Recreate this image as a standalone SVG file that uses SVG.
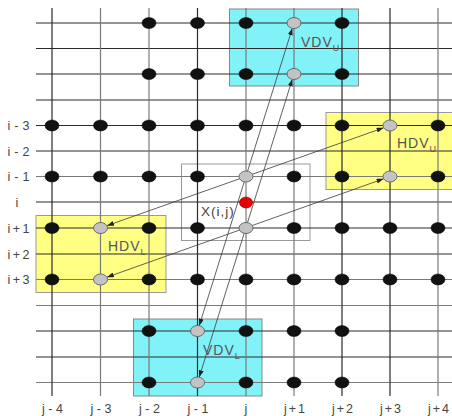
<svg xmlns="http://www.w3.org/2000/svg" width="452" height="416" viewBox="0 0 452 416">
<defs>
<style>
.g{stroke:#2a2a2a;stroke-width:1.2}
.gl{stroke:#7a7a7a;stroke-width:1.2}
.b{fill:#111;stroke:#000;stroke-width:0.5}
.s{fill:#c3c3c3;stroke:#6a6a6a;stroke-width:1}
.lbl{font-family:"Liberation Sans",Arial,sans-serif;font-size:12.5px;fill:#444;text-anchor:middle}
.box{font-family:"Liberation Sans",Arial,sans-serif;font-size:14px;fill:#555;letter-spacing:1px}
.sub{font-size:9px;letter-spacing:0}
.arr{stroke:#3a3a3a;stroke-width:0.8;fill:none;marker-start:url(#ah);marker-end:url(#ah)}
</style>
<marker id="ah" markerUnits="userSpaceOnUse" markerWidth="7" markerHeight="5" refX="7" refY="2.5" orient="auto-start-reverse">
<path d="M0,0 L7,2.5 L0,5 z" fill="#222"/>
</marker>
</defs>
<rect width="452" height="416" fill="#fff"/>
<g id="regions">
<g id="VDV_U_box"><rect x="229.5" y="9" width="129" height="77" fill="#80f2f8" stroke="#888" stroke-width="1"/></g>
<g id="HDV_U_box"><rect x="326" y="112.5" width="127" height="77" fill="#ffff84" stroke="#999" stroke-width="1"/></g>
<g id="HDV_L_box"><rect x="36" y="215.5" width="130" height="77" fill="#ffff84" stroke="#999" stroke-width="1"/></g>
<g id="VDV_L_box"><rect x="133.5" y="319" width="128.5" height="77" fill="#80f2f8" stroke="#888" stroke-width="1"/></g>
<g id="X_box"><rect x="181.5" y="164" width="128.5" height="76.5" fill="none" stroke="#999" stroke-width="1"/></g>
</g>
<g id="grid">
<line class="g" x1="36" y1="23" x2="452" y2="23"/>
<line class="g" x1="36" y1="48.5" x2="452" y2="48.5"/>
<line class="g" x1="36" y1="74" x2="452" y2="74"/>
<line class="g" x1="36" y1="100" x2="452" y2="100"/>
<line class="g" x1="36" y1="125.5" x2="452" y2="125.5"/>
<line class="g" x1="36" y1="151" x2="452" y2="151"/>
<line class="gl" x1="36" y1="176.5" x2="452" y2="176.5"/>
<line class="g" x1="36" y1="202" x2="452" y2="202"/>
<line class="g" x1="36" y1="228" x2="452" y2="228"/>
<line class="g" x1="36" y1="254" x2="452" y2="254"/>
<line class="gl" x1="36" y1="279.5" x2="452" y2="279.5"/>
<line class="gl" x1="36" y1="305.5" x2="452" y2="305.5"/>
<line class="g" x1="36" y1="331" x2="452" y2="331"/>
<line class="g" x1="36" y1="357" x2="452" y2="357"/>
<line class="gl" x1="36" y1="382.5" x2="452" y2="382.5"/>
<line class="g" x1="52" y1="8" x2="52" y2="396"/>
<line class="gl" x1="100.5" y1="8" x2="100.5" y2="396"/>
<line class="gl" x1="149" y1="8" x2="149" y2="396"/>
<line class="g" x1="197.5" y1="8" x2="197.5" y2="396"/>
<line class="gl" x1="246" y1="8" x2="246" y2="396"/>
<line class="gl" x1="294" y1="8" x2="294" y2="396"/>
<line class="g" x1="342" y1="8" x2="342" y2="396"/>
<line class="g" x1="390" y1="8" x2="390" y2="396"/>
<line class="gl" x1="438" y1="8" x2="438" y2="396"/>
</g>
<g id="connectors">
<line class="arr" x1="292.3" y1="28.3" x2="199.2" y2="325.7"/>
<line class="arr" x1="292.3" y1="79.3" x2="199.2" y2="377.2"/>
<line class="arr" x1="383.6" y1="127.8" x2="106.9" y2="225.7"/>
<line class="arr" x1="383.6" y1="178.8" x2="106.9" y2="277.2"/>
</g>
<g id="dots">
<ellipse class="b" cx="149" cy="23" rx="7" ry="5.5"/>
<ellipse class="b" cx="197.5" cy="23" rx="7" ry="5.5"/>
<ellipse class="b" cx="246" cy="23" rx="7" ry="5.5"/>
<ellipse class="s" cx="294" cy="23" rx="7" ry="5.5"/>
<ellipse class="b" cx="342" cy="23" rx="7" ry="5.5"/>
<ellipse class="b" cx="149" cy="74" rx="7" ry="5.5"/>
<ellipse class="b" cx="197.5" cy="74" rx="7" ry="5.5"/>
<ellipse class="b" cx="246" cy="74" rx="7" ry="5.5"/>
<ellipse class="s" cx="294" cy="74" rx="7" ry="5.5"/>
<ellipse class="b" cx="342" cy="74" rx="7" ry="5.5"/>
<ellipse class="b" cx="52" cy="125.5" rx="7" ry="5.5"/>
<ellipse class="b" cx="100.5" cy="125.5" rx="7" ry="5.5"/>
<ellipse class="b" cx="149" cy="125.5" rx="7" ry="5.5"/>
<ellipse class="b" cx="197.5" cy="125.5" rx="7" ry="5.5"/>
<ellipse class="b" cx="246" cy="125.5" rx="7" ry="5.5"/>
<ellipse class="b" cx="294" cy="125.5" rx="7" ry="5.5"/>
<ellipse class="b" cx="342" cy="125.5" rx="7" ry="5.5"/>
<ellipse class="s" cx="390" cy="125.5" rx="7" ry="5.5"/>
<ellipse class="b" cx="438" cy="125.5" rx="7" ry="5.5"/>
<ellipse class="b" cx="52" cy="176.5" rx="7" ry="5.5"/>
<ellipse class="b" cx="100.5" cy="176.5" rx="7" ry="5.5"/>
<ellipse class="b" cx="149" cy="176.5" rx="7" ry="5.5"/>
<ellipse class="b" cx="197.5" cy="176.5" rx="7" ry="5.5"/>
<ellipse class="s" cx="246" cy="176.5" rx="7" ry="5.5"/>
<ellipse class="b" cx="294" cy="176.5" rx="7" ry="5.5"/>
<ellipse class="b" cx="342" cy="176.5" rx="7" ry="5.5"/>
<ellipse class="s" cx="390" cy="176.5" rx="7" ry="5.5"/>
<ellipse class="b" cx="438" cy="176.5" rx="7" ry="5.5"/>
<ellipse cx="246" cy="202.5" rx="6.5" ry="5.5" fill="#e60000" stroke="#900" stroke-width="0.6"/>
<ellipse class="b" cx="52" cy="228" rx="7" ry="5.5"/>
<ellipse class="s" cx="100.5" cy="228" rx="7" ry="5.5"/>
<ellipse class="b" cx="149" cy="228" rx="7" ry="5.5"/>
<ellipse class="b" cx="197.5" cy="228" rx="7" ry="5.5"/>
<ellipse class="s" cx="246" cy="228" rx="7" ry="5.5"/>
<ellipse class="b" cx="294" cy="228" rx="7" ry="5.5"/>
<ellipse class="b" cx="342" cy="228" rx="7" ry="5.5"/>
<ellipse class="b" cx="390" cy="228" rx="7" ry="5.5"/>
<ellipse class="b" cx="438" cy="228" rx="7" ry="5.5"/>
<ellipse class="b" cx="52" cy="279.5" rx="7" ry="5.5"/>
<ellipse class="s" cx="100.5" cy="279.5" rx="7" ry="5.5"/>
<ellipse class="b" cx="149" cy="279.5" rx="7" ry="5.5"/>
<ellipse class="b" cx="197.5" cy="279.5" rx="7" ry="5.5"/>
<ellipse class="b" cx="246" cy="279.5" rx="7" ry="5.5"/>
<ellipse class="b" cx="294" cy="279.5" rx="7" ry="5.5"/>
<ellipse class="b" cx="342" cy="279.5" rx="7" ry="5.5"/>
<ellipse class="b" cx="390" cy="279.5" rx="7" ry="5.5"/>
<ellipse class="b" cx="438" cy="279.5" rx="7" ry="5.5"/>
<ellipse class="b" cx="149" cy="331" rx="7" ry="5.5"/>
<ellipse class="s" cx="197.5" cy="331" rx="7" ry="5.5"/>
<ellipse class="b" cx="246" cy="331" rx="7" ry="5.5"/>
<ellipse class="b" cx="294" cy="331" rx="7" ry="5.5"/>
<ellipse class="b" cx="342" cy="331" rx="7" ry="5.5"/>
<ellipse class="b" cx="149" cy="382.5" rx="7" ry="5.5"/>
<ellipse class="s" cx="197.5" cy="382.5" rx="7" ry="5.5"/>
<ellipse class="b" cx="246" cy="382.5" rx="7" ry="5.5"/>
<ellipse class="b" cx="294" cy="382.5" rx="7" ry="5.5"/>
<ellipse class="b" cx="342" cy="382.5" rx="7" ry="5.5"/>
</g>
<g id="row-labels">
<text class="lbl" x="18.5" y="130" textLength="22" lengthAdjust="spacing">i-3</text>
<text class="lbl" x="18.5" y="155.5" textLength="22" lengthAdjust="spacing">i-2</text>
<text class="lbl" x="18.5" y="181" textLength="22" lengthAdjust="spacing">i-1</text>
<text class="lbl" x="17" y="206.5">i</text>
<text class="lbl" x="18.5" y="232.5" textLength="22" lengthAdjust="spacing">i+1</text>
<text class="lbl" x="18.5" y="258.5" textLength="22" lengthAdjust="spacing">i+2</text>
<text class="lbl" x="18.5" y="284" textLength="22" lengthAdjust="spacing">i+3</text>
</g>
<g id="col-labels">
<text class="lbl" x="52.5" y="412.5" textLength="21" lengthAdjust="spacing">j-4</text>
<text class="lbl" x="101" y="412.5" textLength="21" lengthAdjust="spacing">j-3</text>
<text class="lbl" x="149.5" y="412.5" textLength="21" lengthAdjust="spacing">j-2</text>
<text class="lbl" x="198" y="412.5" textLength="21" lengthAdjust="spacing">j-1</text>
<text class="lbl" x="246" y="412.5">j</text>
<text class="lbl" x="294.5" y="412.5" textLength="21" lengthAdjust="spacing">j+1</text>
<text class="lbl" x="342.5" y="412.5" textLength="21" lengthAdjust="spacing">j+2</text>
<text class="lbl" x="390.5" y="412.5" textLength="21" lengthAdjust="spacing">j+3</text>
<text class="lbl" x="438.5" y="412.5" textLength="21" lengthAdjust="spacing">j+4</text>
</g>
<g id="box-labels">
<text class="box" x="301" y="47">VDV<tspan class="sub" dy="4">U</tspan></text>
<text class="box" x="397" y="148">HDV<tspan class="sub" dy="4">U</tspan></text>
<text class="box" x="108" y="251">HDV<tspan class="sub" dy="4">L</tspan></text>
<text class="box" x="203" y="355">VDV<tspan class="sub" dy="4">L</tspan></text>
<text class="box" x="201" y="216" style="fill:#444;font-size:13.5px">X(i,j)</text>
</g>
</svg>
